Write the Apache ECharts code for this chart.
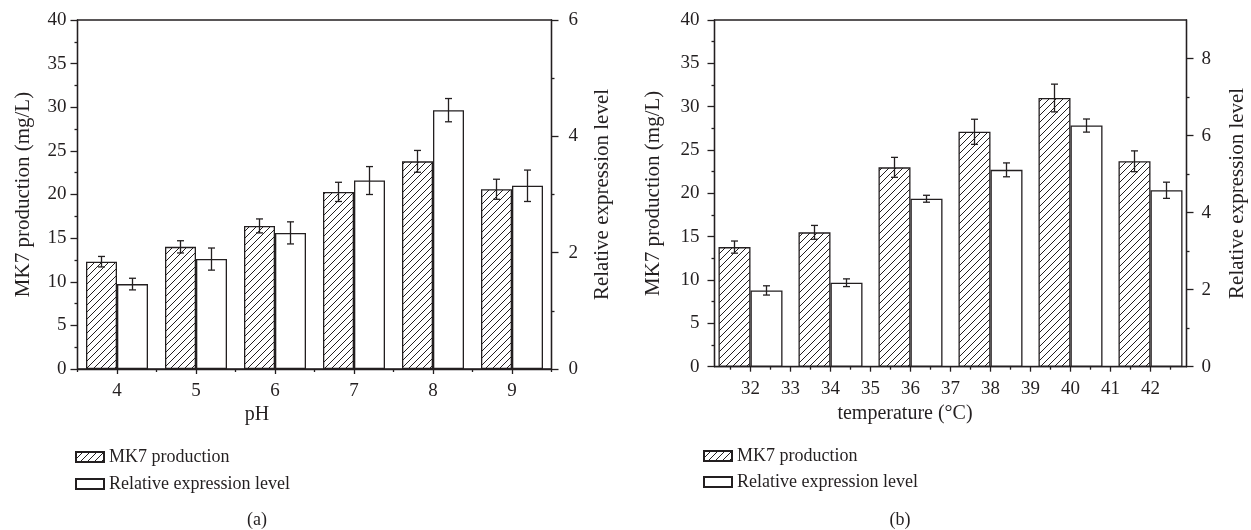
<!DOCTYPE html>
<html>
<head>
<meta charset="utf-8">
<script src="https://cdn.jsdelivr.net/npm/echarts@6/dist/echarts.min.js"></script>
<style>
  html, body { margin: 0; padding: 0; background: #fff; }
  #chart { width: 1251px; height: 530px; }
</style>
</head>
<body>
<div id="chart"></div>
<script>
// (a) pH
var phCats = [4, 5, 6, 7, 8, 9]
var phMk7 = [12.3, 14.0, 16.4, 20.3, 23.8, 20.6]
var phMk7Err = [0.6, 0.7, 0.8, 1.1, 1.25, 1.15]
var phRel = [1.46, 1.89, 2.34, 3.24, 4.45, 3.15]
var phRelErr = [0.10, 0.19, 0.19, 0.24, 0.20, 0.27]

// (b) temperature
var tempCats = [32, 34, 36, 38, 40, 42]
var tempMk7 = [13.8, 15.5, 23.0, 27.1, 31.0, 23.7]
var tempMk7Err = [0.7, 0.8, 1.15, 1.45, 1.6, 1.2]
var tempRel = [1.98, 2.18, 4.36, 5.11, 6.26, 4.58]
var tempRelErr = [0.12, 0.10, 0.09, 0.18, 0.17, 0.21]

// tick labels
var phTicks = [4, 5, 6, 7, 8, 9]
var tempTicks = [32, 33, 34, 35, 36, 37, 38, 39, 40, 41, 42]
var relTicksB = [0, 2, 4, 6, 8]

var INK = '#231f20'
var FONT = 'Liberation Serif'

function halfTicks(arr) {
  var out = []
  for (var i = 1; i < arr.length; i++) out.push((arr[i - 1] + arr[i]) / 2)
  out.push(arr[arr.length - 1] + (arr[1] - arr[0]) / 2)
  out.unshift(arr[0] - (arr[1] - arr[0]) / 2)
  return out
}

function hatch() {
  var c = document.createElement('canvas')
  c.width = 7
  c.height = 7
  var ctx = c.getContext('2d')
  ctx.fillStyle = '#fff'
  ctx.fillRect(0, 0, 7, 7)
  ctx.strokeStyle = INK
  ctx.lineWidth = 1
  ctx.beginPath()
  ctx.moveTo(-1, 8); ctx.lineTo(8, -1)
  ctx.moveTo(-1, 1); ctx.lineTo(1, -1)
  ctx.moveTo(6, 8); ctx.lineTo(8, 6)
  ctx.stroke()
  return {image: c, repeat: 'repeat'}
}
var hatchFill = hatch()

function pairs(xs, ys, es) {
  return xs.map(function (x, i) {
    return es ? [x, ys[i], es[i]] : [x, ys[i]]
  })
}

function errorBars(off) {
  return function (params, api) {
    var x = api.value(0), y = api.value(1), e = api.value(2)
    var hi = api.coord([x, y + e])
    var lo = api.coord([x, y - e])
    var cx = hi[0] + off
    var st = {stroke: INK, lineWidth: 1.3}
    return {
      type: 'group',
      children: [
        {type: 'line', shape: {x1: cx, y1: hi[1], x2: cx, y2: lo[1]}, style: st},
        {type: 'line', shape: {x1: cx - 3.5, y1: hi[1], x2: cx + 3.5, y2: hi[1]}, style: st},
        {type: 'line', shape: {x1: cx - 3.5, y1: lo[1], x2: cx + 3.5, y2: lo[1]}, style: st}
      ]
    }
  }
}

var lineSt = {color: INK, width: 1.3}
var labelSt = {color: INK, fontFamily: FONT, fontSize: 19}
var nameSt = {color: INK, fontFamily: FONT, fontSize: 21}

function xMain(grid, min, max, ticks) {
  return {
    type: 'value', gridIndex: grid, position: 'bottom', min: min, max: max,
    axisLine: {lineStyle: lineSt},
    axisTick: {customValues: ticks, length: 5, lineStyle: lineSt},
    axisLabel: Object.assign({customValues: ticks, margin: 13}, labelSt),
    splitLine: {show: false}
  }
}
function xMinor(grid, min, max, ticks) {
  return {
    type: 'value', gridIndex: grid, position: 'bottom', min: min, max: max,
    axisLine: {show: false},
    axisTick: {customValues: halfTicks(ticks), length: 3, lineStyle: lineSt},
    axisLabel: {show: false},
    splitLine: {show: false}
  }
}

var barW = [31, 32]

var legendText = {color: INK, fontFamily: FONT, fontSize: 18}

var option = {
  backgroundColor: '#fff',
  animation: false,
  grid: [
    {left: 77.5, top: 20, width: 474, height: 349, show: true, borderColor: INK, borderWidth: 1.3, backgroundColor: 'transparent'},
    {left: 714.5, top: 20, width: 472, height: 346.7, show: true, borderColor: INK, borderWidth: 1.3, backgroundColor: 'transparent'}
  ],
  xAxis: [
    xMain(0, 3.5, 9.5, phTicks),
    xMinor(0, 3.5, 9.5, phTicks),
    xMain(1, 31.1, 42.9, tempTicks),
    xMinor(1, 31.1, 42.9, tempTicks)
  ],
  yAxis: [
    {
      type: 'value', gridIndex: 0, position: 'left', min: 0, max: 40, interval: 5,
      axisLine: {show: true, lineStyle: lineSt},
      axisTick: {show: true, length: 7, lineStyle: lineSt},
      minorTick: {show: true, splitNumber: 2, length: 3, lineStyle: lineSt},
      axisLabel: Object.assign({margin: 11}, labelSt),
      splitLine: {show: false},
      name: 'MK7 production (mg/L)', nameLocation: 'middle', nameGap: 44, nameRotate: 90,
      nameTextStyle: nameSt
    },
    {
      type: 'value', gridIndex: 0, position: 'right', min: 0, max: 6, interval: 2,
      axisLine: {show: true, lineStyle: lineSt},
      axisTick: {show: true, length: 7, lineStyle: lineSt},
      minorTick: {show: true, splitNumber: 2, length: 3, lineStyle: lineSt},
      axisLabel: Object.assign({margin: 17}, labelSt),
      splitLine: {show: false},
      name: 'Relative expression level', nameLocation: 'middle', nameGap: 40, nameRotate: 90,
      nameTextStyle: nameSt
    },
    {
      type: 'value', gridIndex: 1, position: 'left', min: 0, max: 40, interval: 5,
      axisLine: {show: true, lineStyle: lineSt},
      axisTick: {show: true, length: 7, lineStyle: lineSt},
      minorTick: {show: true, splitNumber: 2, length: 3, lineStyle: lineSt},
      axisLabel: Object.assign({margin: 15}, labelSt),
      splitLine: {show: false},
      name: 'MK7 production (mg/L)', nameLocation: 'middle', nameGap: 51, nameRotate: 90,
      nameTextStyle: nameSt
    },
    {
      type: 'value', gridIndex: 1, position: 'right', min: 0, max: 9,
      axisLine: {show: true, lineStyle: lineSt},
      axisTick: {show: true, customValues: relTicksB, length: 7, lineStyle: lineSt},
      axisLabel: Object.assign({customValues: relTicksB, margin: 15}, labelSt),
      splitLine: {show: false},
      name: 'Relative expression level', nameLocation: 'middle', nameGap: 40, nameRotate: 90,
      nameTextStyle: nameSt
    },
    {
      type: 'value', gridIndex: 1, position: 'right', min: 0, max: 9,
      axisLine: {show: false},
      axisTick: {show: true, customValues: [1, 3, 5, 7], length: 3, lineStyle: lineSt},
      axisLabel: {show: false},
      splitLine: {show: false}
    }
  ],
  legend: [
    {
      left: 75, top: 448, padding: 0, orient: 'vertical', icon: 'rect', itemWidth: 28, itemHeight: 10, itemGap: 9,
      textStyle: legendText,
      data: ['MK7 production', 'Relative expression level']
    },
    {
      left: 703, top: 447, padding: 0, orient: 'vertical', icon: 'rect', itemWidth: 28, itemHeight: 10, itemGap: 8,
      textStyle: legendText,
      data: ['MK7 production', 'Relative expression level']
    }
  ],
  graphic: [
    {type: 'text', x: 257, y: 415, style: {text: 'pH', font: '20px "Liberation Serif"', fill: INK, align: 'center', verticalAlign: 'middle'}},
    {type: 'text', x: 905, y: 414, style: {text: 'temperature (°C)', font: '20px "Liberation Serif"', fill: INK, align: 'center', verticalAlign: 'middle'}},
    {type: 'text', x: 257, y: 520, style: {text: '(a)', font: '18px "Liberation Serif"', fill: INK, align: 'center', verticalAlign: 'middle'}},
    {type: 'text', x: 900, y: 520, style: {text: '(b)', font: '18px "Liberation Serif"', fill: INK, align: 'center', verticalAlign: 'middle'}}
  ],
  series: [
    {
      name: 'MK7 production', type: 'bar', xAxisIndex: 0, yAxisIndex: 0,
      barWidth: barW[0], barGap: '0%', data: pairs(phCats, phMk7),
      itemStyle: {color: hatchFill, borderColor: INK, borderWidth: 1.3}
    },
    {
      name: 'Relative expression level', type: 'bar', xAxisIndex: 0, yAxisIndex: 1,
      barWidth: barW[0], barGap: '0%', data: pairs(phCats, phRel),
      itemStyle: {color: '#fff', borderColor: INK, borderWidth: 1.3}
    },
    {
      type: 'custom', xAxisIndex: 0, yAxisIndex: 0, z: 5,
      renderItem: errorBars(-barW[0] / 2), data: pairs(phCats, phMk7, phMk7Err)
    },
    {
      type: 'custom', xAxisIndex: 0, yAxisIndex: 1, z: 5,
      renderItem: errorBars(barW[0] / 2), data: pairs(phCats, phRel, phRelErr)
    },
    {
      name: 'MK7 production', type: 'bar', xAxisIndex: 2, yAxisIndex: 2,
      barWidth: barW[1], barGap: '0%', data: pairs(tempCats, tempMk7),
      itemStyle: {color: hatchFill, borderColor: INK, borderWidth: 1.3}
    },
    {
      name: 'Relative expression level', type: 'bar', xAxisIndex: 2, yAxisIndex: 3,
      barWidth: barW[1], barGap: '0%', data: pairs(tempCats, tempRel),
      itemStyle: {color: '#fff', borderColor: INK, borderWidth: 1.3}
    },
    {
      type: 'custom', xAxisIndex: 2, yAxisIndex: 2, z: 5,
      renderItem: errorBars(-barW[1] / 2), data: pairs(tempCats, tempMk7, tempMk7Err)
    },
    {
      type: 'custom', xAxisIndex: 2, yAxisIndex: 3, z: 5,
      renderItem: errorBars(barW[1] / 2), data: pairs(tempCats, tempRel, tempRelErr)
    }
  ]
}

var myChart = echarts.init(document.getElementById('chart'), null, {renderer: 'canvas'})
myChart.setOption(option)
</script>
</body>
</html>
